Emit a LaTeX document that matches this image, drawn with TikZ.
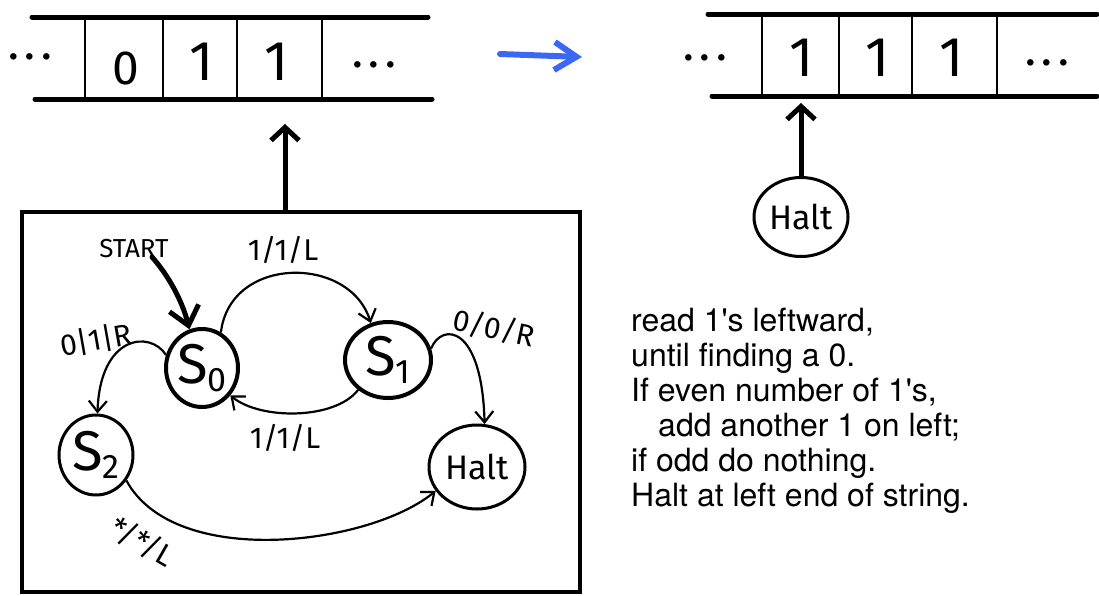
\documentclass[tikz,border=0pt]{standalone}
\usepackage{fontspec}
\setmainfont{TeX Gyre Heros}
\newfontfamily\handfont{Fira Sans}
\usetikzlibrary{arrows.meta,shapes.geometric}

\definecolor{stepblue}{HTML}{3A68F2}
\newcommand{\idx}[1]{\raisebox{-8pt}{\fontsize{34}{34}\selectfont #1}}

\tikzset{
  tapeline/.style={line width=5pt, line cap=round},
  cellwall/.style={line width=2.2pt},
  tapesym/.style={inner sep=0pt, font=\handfont\fontsize{56}{56}\selectfont},
  dots/.style={inner sep=0pt, font=\handfont\bfseries\fontsize{36}{36}\selectfont},
  state/.style={draw, ellipse, line width=4pt, inner sep=0pt, font=\handfont\fontsize{56}{56}\selectfont},
  haltstate/.style={state, line width=3pt, font=\handfont\fontsize{34}{34}\selectfont},
  lbl/.style={inner sep=0pt, font=\handfont\fontsize{30}{30}\selectfont},
  trans/.style={line width=2.2pt, -{Straight Barb[length=11pt,width=18pt]}},
  ptr/.style={line width=5pt, -{Straight Barb[length=13pt,width=28pt]}},
  note/.style={align=left, inner sep=0pt, font=\fontsize{32}{35}\selectfont}
}

\begin{document}
\begin{tikzpicture}[x=1pt,y=-1pt]
    \useasboundingbox (0,0) rectangle (1099,595);

    % Tape before
    \draw[tapeline] (32,17) -- (428,17);
    \draw[tapeline] (35,99) -- (432,99);
    \foreach \x in {85,163,237,322}
        \draw[cellwall] (\x,17) -- (\x,99);
    \node[dots] (dotsA) at (30,57) {.\hspace{8pt}.\hspace{8pt}.};
    \node[tapesym, font=\handfont\fontsize{48}{48}\selectfont] (cellA) at (126,68) {0};
    \node[tapesym] (cellB) at (202,62) {1};
    \node[tapesym] (cellC) at (277,62) {1};
    \node[dots] (dotsB) at (374,65) {.\hspace{8pt}.\hspace{8pt}.};

    % Step arrow
    \coordinate (stepfrom) at (500,54);
    \coordinate (stepto) at (582,57);
    \draw[stepblue, line width=6pt, line cap=round, -{Straight Barb[length=22pt,width=28pt]}] (stepfrom) -- (stepto);

    % Tape after
    \draw[tapeline] (708,14) -- (1097,14);
    \draw[tapeline] (712,96) -- (1097,96);
    \foreach \x in {762,839,912,997}
        \draw[cellwall] (\x,14) -- (\x,96);
    \node[dots] (dotsC) at (705,58) {.\hspace{8pt}.\hspace{8pt}.};
    \node[tapesym] (cellD) at (802,58) {1};
    \node[tapesym] (cellE) at (878,58) {1};
    \node[tapesym] (cellF) at (952,58) {1};
    \node[dots] (dotsD) at (1047,63) {.\hspace{8pt}.\hspace{8pt}.};

    % Head after halting
    \node[haltstate, minimum width=94pt, minimum height=79pt] (haltB) at (801,217) {Halt};
    \coordinate (newhead) at (801,103);
    \draw[ptr] (haltB.north) -- (newhead);

    % Machine
    \node[draw, line width=4.5pt, minimum width=558pt, minimum height=380pt, inner sep=0pt] (machine) at (301,402) {};
    \coordinate (oldhead) at (285,124);
    \draw[ptr] (machine.north -| oldhead) -- (oldhead);

    % States
    \node[state, minimum width=72pt, minimum height=78pt] (s0) at (202,368) {S\idx{0}};
    \node[state, minimum width=86pt, minimum height=76pt] (s1) at (388,360) {S\idx{1}};
    \node[state, line width=3pt, minimum width=74pt, minimum height=80pt] (s2) at (96,455) {S\idx{2}};
    \node[haltstate, minimum width=96pt, minimum height=84pt] (haltA) at (477,467) {Halt};

    % Start
    \node[lbl, font=\handfont\fontsize{26}{26}\selectfont] (startlbl) at (134,249) {START};
    \coordinate (startpt) at (152,257);
    \draw[line width=5pt, line cap=round, -{Straight Barb[length=18pt,width=30pt]}] (startpt) .. controls (168,275) and (182,300) .. (s0.108);

    % Transitions
    \draw[trans] (s0.62) .. controls (230,255) and (350,255) .. (s1.115);
    \draw[trans] (s1.225) .. controls (335,420) and (260,420) .. (s0.316);
    \draw[trans] (s0.160) .. controls (150,330) and (100,335) .. (s2.88);
    \draw[trans] (s1.15) .. controls (442,322) and (482,325) .. (haltA.80);
    \draw[trans] (s2.-40) .. controls (175,570) and (370,545) .. (haltA.210);

    % Labels
    \node[lbl] (lab01) at (283,250) {1/1/L};
    \node[lbl] (lab10) at (285,438) {1/1/L};
    \node[lbl, rotate=10] (lab02) at (96,340) {0|1|R};
    \node[lbl, rotate=-12] (lab1h) at (494,328) {0/0/R};
    \node[lbl, rotate=-30] (lab2h) at (142,542) {*/*/L};

    % Rule
    \node[note, anchor=north west] (rule) at (631,308) {\lineskiplimit=-100pt\relax read 1\textquotesingle s leftward,\\
        until finding a 0.\\
        If even number of 1\textquotesingle s,\\
        \hspace*{27pt}add another 1 on left;\\
        if odd do nothing.\\
        Halt at left end of string.};
\end{tikzpicture}
\end{document}
